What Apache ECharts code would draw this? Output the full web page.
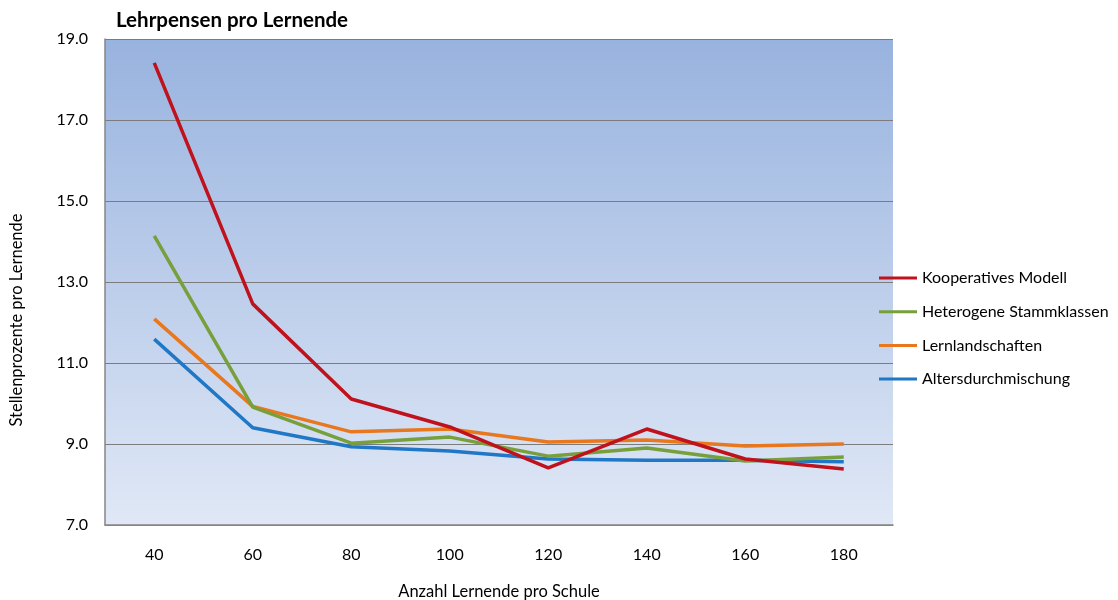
<!DOCTYPE html>
<html><head><meta charset="utf-8">
<script src="https://cdn.jsdelivr.net/npm/echarts@6/dist/echarts.min.js"></script>
<style>html,body{margin:0;padding:0;background:#fff;overflow:hidden}#c{width:1118px;height:600px}</style>
</head><body><div id="c"></div>
<script>
const categories = ['40','60','80','100','120','140','160','180'];
const kooperativ = [18.41, 12.46, 10.11, 9.42, 8.41, 9.37, 8.63, 8.38];
const heterogen  = [14.14, 9.91, 9.02, 9.17, 8.70, 8.90, 8.58, 8.68];
const lernland   = [12.09, 9.93, 9.30, 9.37, 9.05, 9.10, 8.95, 9.00];
const alters     = [11.59, 9.40, 8.93, 8.83, 8.63, 8.60, 8.60, 8.56];
const seriesNames = ['Kooperatives Modell','Heterogene Stammklassen','Lernlandschaften','Altersdurchmischung'];
const colors = ['#c0121c','#77a03c','#e8771e','#1f77c6'];
const font = 'Lato, "Open Sans", sans-serif';

const chart = echarts.init(document.getElementById('c'));
const mk = (name, data, i) => ({
  name, type: 'line', data, symbol: 'none', smooth: false,
  lineStyle: { width: 3.5, color: colors[i] }, itemStyle: { color: colors[i] }, z: 3 + (3 - i)
});
chart.setOption({
  animation: false,
  title: { text: 'Lehrpensen pro Lernende', left: 111, top: 5,
    textStyle: { fontFamily: font, fontWeight: 'bold', fontSize: 20.5, color: '#000' } },
  grid: { left: 105, width: 788, top: 39, height: 486, show: true, borderWidth: 0,
    containLabel: false, outerBoundsMode: 'none',
    backgroundColor: { type: 'linear', x: 0, y: 0, x2: 0, y2: 1,
      colorStops: [{ offset: 0, color: '#98b3df' }, { offset: 1, color: '#e0e8f6' }] } },
  legend: { orient: 'vertical', left: 874, top: 264, icon: 'rect', itemWidth: 38, itemHeight: 3,
    itemGap: 15.7, textStyle: { fontFamily: font, fontSize: 16, lineHeight: 18, color: '#000' },
    data: seriesNames },
  xAxis: { type: 'category', data: categories, boundaryGap: true,
    name: 'Anzahl Lernende pro Schule', nameLocation: 'middle', nameGap: 58,
    nameTextStyle: { fontFamily: font, fontSize: 16.5, color: '#000' },
    axisLine: { lineStyle: { color: '#868686', width: 1.5 } }, axisTick: { show: false },
    axisLabel: { fontFamily: font, fontSize: 16, color: '#000', margin: 22 } },
  yAxis: { type: 'value', min: 7, max: 19, interval: 2,
    axisLine: { show: true, lineStyle: { color: '#868686', width: 1.5 } }, axisTick: { show: false },
    axisLabel: { fontFamily: font, fontSize: 16, color: '#000', margin: 17,
      formatter: v => v.toFixed(1) },
    splitLine: { lineStyle: { color: '#7c7c7c', width: 1 } } },
  graphic: [{ type: 'text', x: 17, y: 320, rotation: Math.PI / 2,
    style: { text: 'Stellenprozente pro Lernende', fill: '#000', font: '16.5px ' + font,
      textAlign: 'center', textVerticalAlign: 'middle' } }],
  series: [mk(seriesNames[0], kooperativ, 0), mk(seriesNames[1], heterogen, 1),
           mk(seriesNames[2], lernland, 2), mk(seriesNames[3], alters, 3)]
});
</script></body></html>
